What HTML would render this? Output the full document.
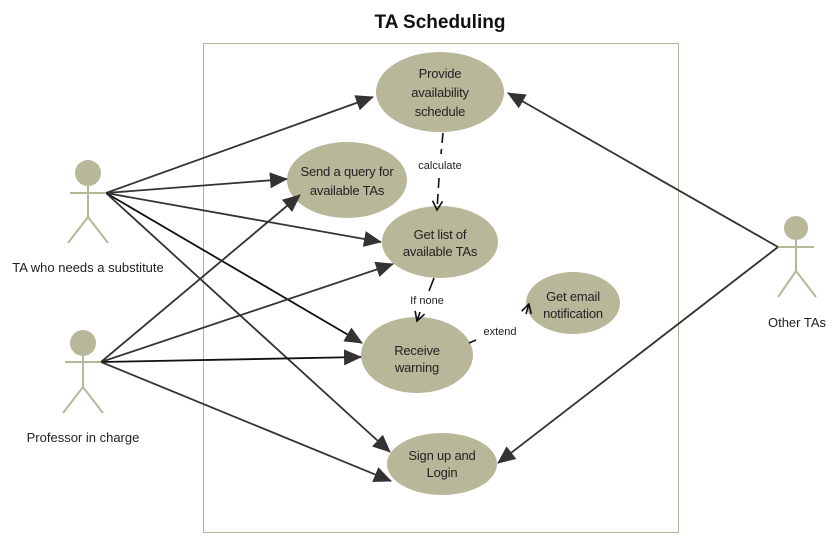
<!DOCTYPE html>
<html><head><style>
body{margin:0;background:#fff;}
svg{display:block;font-family:"Liberation Sans",sans-serif;}
</style></head><body>
<svg width="835" height="542" viewBox="0 0 835 542" xmlns="http://www.w3.org/2000/svg">
<defs>
<marker id="f" markerWidth="18" markerHeight="16" refX="17" refY="8" orient="auto" markerUnits="userSpaceOnUse">
<path d="M0,0 L18,8 L0,16 Z" fill="#333"/></marker>
<marker id="o" markerWidth="12" markerHeight="12" refX="10" refY="6" orient="auto" markerUnits="userSpaceOnUse">
<path d="M1,1 L10,6 L1,11" fill="none" stroke="#111" stroke-width="1.6"/></marker>
</defs>
<text x="440" y="28" text-anchor="middle" font-size="19" font-weight="bold" fill="#111">TA Scheduling</text>
<rect x="203.5" y="43.5" width="475" height="489" fill="none" stroke="#b5b298" stroke-width="1"/>
<g fill="#b9b799">
<ellipse cx="440" cy="92" rx="64" ry="40"/>
<ellipse cx="347" cy="180" rx="60" ry="38"/>
<ellipse cx="440" cy="242" rx="58" ry="36"/>
<ellipse cx="573" cy="303" rx="47" ry="31"/>
<ellipse cx="417" cy="355" rx="56" ry="38"/>
<ellipse cx="442" cy="464" rx="55" ry="31"/>
</g>
<g stroke="#333" stroke-width="1.8" fill="none" marker-end="url(#f)">
<line x1="106" y1="193" x2="373" y2="97"/>
<line x1="106" y1="193" x2="287" y2="179"/>
<line x1="106" y1="193" x2="381" y2="242"/>
<line x1="106" y1="193" x2="362" y2="343" stroke="#111"/>
<line x1="106" y1="193" x2="390" y2="452"/>
<line x1="101" y1="362" x2="300" y2="195"/>
<line x1="101" y1="362" x2="393" y2="264"/>
<line x1="101" y1="362" x2="361" y2="357" stroke="#111"/>
<line x1="101" y1="362" x2="391" y2="481"/>
<line x1="778" y1="247" x2="508" y2="93"/>
<line x1="778" y1="247" x2="498" y2="463"/>
</g>
<g stroke="#111" stroke-width="1.6" fill="none" stroke-dasharray="10,6">
<line x1="443" y1="133" x2="441" y2="154"/>
<line x1="439" y1="178" x2="437" y2="210" marker-end="url(#o)"/>
<line x1="434" y1="278" x2="429" y2="291" stroke-dasharray="none"/>
<line x1="420" y1="312" x2="417" y2="321" stroke-dasharray="none" marker-end="url(#o)"/>
<line x1="469" y1="343" x2="476" y2="340" stroke-dasharray="none"/>
<line x1="526" y1="314" x2="529" y2="304" stroke-dasharray="none" marker-end="url(#o)"/>
</g>
<g font-size="11" fill="#222" text-anchor="middle">
<text x="440" y="169">calculate</text>
<text x="427" y="304">If none</text>
<text x="500" y="335">extend</text>
</g>
<g font-size="13" fill="#222" text-anchor="middle" letter-spacing="-0.2">
<text x="440" y="78">Provide</text>
<text x="440" y="97">availability</text>
<text x="440" y="116">schedule</text>
<text x="347" y="176">Send a query for</text>
<text x="347" y="195">available TAs</text>
<text x="440" y="239">Get list of</text>
<text x="440" y="256">available TAs</text>
<text x="573" y="301">Get email</text>
<text x="573" y="318">notification</text>
<text x="417" y="355">Receive</text>
<text x="417" y="372">warning</text>
<text x="442" y="460">Sign up and</text>
<text x="442" y="477">Login</text>
</g>
<g stroke="#b9b799" stroke-width="2" fill="none">
<line x1="70" y1="193" x2="106" y2="193"/><line x1="88" y1="186" x2="88" y2="217"/>
<line x1="88" y1="217" x2="68" y2="243"/><line x1="88" y1="217" x2="108" y2="243"/>
<line x1="65" y1="362" x2="101" y2="362"/><line x1="83" y1="355" x2="83" y2="387"/>
<line x1="83" y1="387" x2="63" y2="413"/><line x1="83" y1="387" x2="103" y2="413"/>
<line x1="778" y1="247" x2="814" y2="247"/><line x1="796" y1="240" x2="796" y2="271"/>
<line x1="796" y1="271" x2="778" y2="297"/><line x1="796" y1="271" x2="816" y2="297"/>
</g>
<g fill="#b9b799">
<circle cx="88" cy="173" r="13"/><circle cx="83" cy="343" r="13"/><circle cx="796" cy="228" r="12"/>
</g>
<g font-size="13" fill="#222" text-anchor="middle">
<text x="88" y="272">TA who needs a substitute</text>
<text x="83" y="442">Professor in charge</text>
<text x="797" y="327">Other TAs</text>
</g>
</svg>
</body></html>
